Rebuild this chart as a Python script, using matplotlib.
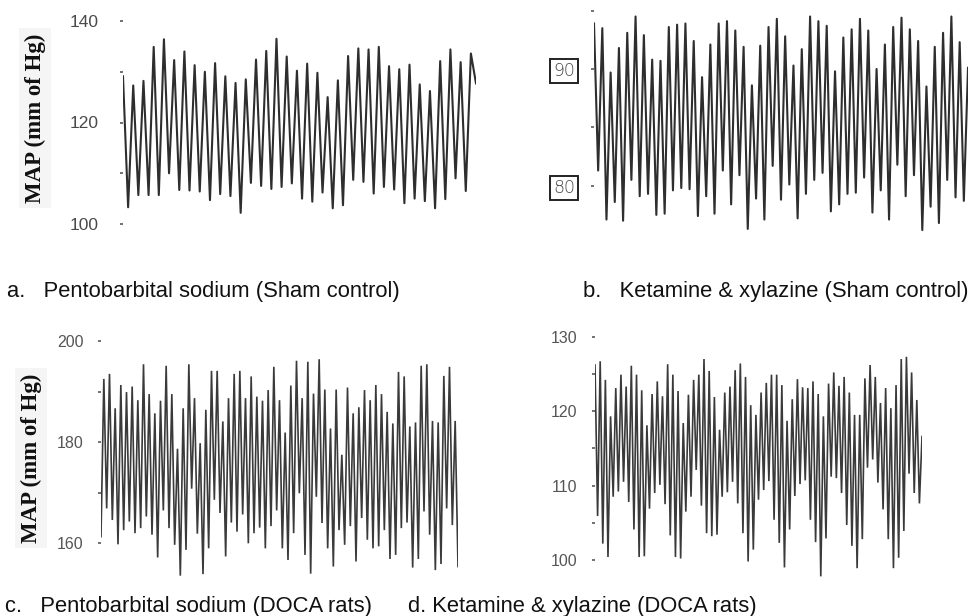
import matplotlib
matplotlib.use("Agg")
import matplotlib.pyplot as plt
import numpy as np

# Mean arterial pressure traces (mm Hg), successive peak / trough readings
map_pento_sham = [129.1, 103.3, 127.3, 105.7, 128.2, 105.7, 134.9, 105.7, 136.4, 110.0,
                  132.3, 106.7, 134.0, 106.6, 131.3, 106.4, 130.0, 104.7, 131.7, 105.9,
                  129.1, 105.5, 127.8, 102.2, 128.5, 108.1, 132.4, 107.5, 134.1, 106.9,
                  136.5, 107.3, 133.0, 108.0, 130.2, 105.0, 131.6, 104.4, 129.8, 106.2,
                  125.0, 103.1, 128.3, 103.7, 133.1, 108.7, 134.6, 108.3, 134.4, 106.0,
                  134.9, 107.3, 131.1, 106.8, 130.5, 104.1, 131.4, 105.0, 127.5, 104.5,
                  126.2, 103.1, 132.1, 104.9, 134.4, 109.0, 131.9, 106.5, 133.6, 127.7]

map_ketx_sham = [93.9, 81.3, 93.5, 77.1, 89.7, 78.6, 91.8, 77.0, 93.1, 80.5,
                 94.5, 79.1, 92.9, 79.3, 90.8, 77.5, 90.7, 77.6, 93.6, 79.6,
                 93.8, 79.8, 93.9, 79.7, 92.4, 77.4, 89.3, 79.1, 92.1, 77.6,
                 93.9, 81.3, 94.1, 78.4, 93.3, 80.9, 91.9, 76.3, 88.6, 78.9,
                 92.0, 77.1, 93.6, 81.7, 94.3, 78.8, 92.8, 80.1, 90.3, 77.2,
                 91.7, 79.3, 94.5, 80.5, 94.1, 81.1, 93.7, 77.8, 89.8, 78.4,
                 92.7, 79.3, 93.4, 79.4, 94.3, 80.7, 93.3, 77.7, 90.0, 79.6,
                 92.1, 77.1, 93.6, 81.8, 94.4, 79.1, 93.4, 80.9, 92.4, 76.2,
                 88.5, 78.2, 91.9, 76.8, 93.1, 80.5, 94.5, 79.0, 92.3, 78.7, 90.1]

map_pento_doca = [161.3, 192.5, 166.9, 193.5, 164.6, 186.7, 159.8, 191.3, 162.6, 189.9,
                  164.3, 191.0, 162.0, 188.3, 163.0, 195.4, 165.3, 189.5, 161.7, 185.7,
                  157.2, 188.2, 166.5, 195.1, 163.0, 189.5, 159.7, 178.7, 153.6, 186.7,
                  158.7, 195.4, 170.8, 188.7, 161.9, 179.8, 153.9, 186.4, 159.0, 194.1,
                  168.6, 194.1, 166.0, 184.1, 157.4, 188.7, 164.1, 193.5, 162.3, 194.1,
                  165.7, 188.7, 160.0, 193.0, 162.0, 189.0, 163.1, 188.2, 159.0, 190.3,
                  163.4, 194.9, 166.5, 188.3, 159.0, 181.9, 156.7, 191.2, 162.0, 196.1,
                  169.9, 188.7, 157.7, 195.9, 154.0, 189.6, 169.2, 196.4, 164.0, 190.4,
                  159.0, 182.7, 155.4, 190.4, 162.6, 177.5, 159.7, 190.8, 163.4, 185.7,
                  156.4, 186.9, 165.0, 190.3, 160.7, 188.3, 159.0, 191.3, 159.4, 189.5,
                  162.6, 186.0, 156.9, 183.7, 157.7, 193.9, 163.0, 193.0, 164.1, 183.1,
                  155.2, 183.9, 156.9, 195.1, 166.3, 195.4, 161.7, 184.2, 154.7, 183.9,
                  155.9, 193.1, 166.9, 194.9, 163.6, 184.2, 155.4]

map_ketx_doca = [126.2, 105.9, 126.7, 102.2, 124.2, 100.4, 119.3, 108.5, 123.1, 109.2,
                 124.9, 110.5, 123.3, 107.8, 126.1, 104.1, 124.9, 100.4, 122.8, 100.5,
                 118.1, 106.9, 122.3, 109.0, 124.0, 110.1, 122.0, 107.5, 126.3, 103.3,
                 124.9, 100.4, 122.7, 100.2, 118.4, 106.5, 122.2, 108.5, 124.2, 112.1,
                 124.9, 107.3, 127.0, 103.6, 125.4, 103.2, 121.9, 103.4, 117.5, 108.5,
                 122.5, 109.1, 123.3, 110.5, 125.5, 107.6, 126.4, 103.6, 124.6, 99.8,
                 120.8, 101.4, 119.5, 108.1, 122.5, 109.4, 123.8, 110.6, 124.9, 105.4,
                 124.9, 102.3, 123.5, 99.0, 118.7, 104.1, 121.6, 108.6, 124.3, 110.2,
                 123.2, 110.7, 123.1, 105.4, 124.0, 102.4, 122.3, 97.8, 119.3, 102.9,
                 123.7, 111.2, 125.2, 111.0, 123.4, 109.0, 124.6, 104.7, 122.5, 101.9,
                 119.5, 98.9, 119.5, 102.8, 124.4, 112.4, 126.2, 113.5, 124.6, 110.4,
                 121.1, 106.8, 123.1, 102.8, 120.4, 98.9, 123.5, 100.3, 127.0, 103.9,
                 127.3, 111.6, 125.2, 109.0, 121.5, 107.6, 116.6]

captions = ["a.   Pentobarbital sodium (Sham control)",
            "b.   Ketamine & xylazine (Sham control)",
            "c.   Pentobarbital sodium (DOCA rats)",
            "d. Ketamine & xylazine (DOCA rats)"]
ylabel_text = "MAP (mm of Hg)"

W, H = 969, 616
fig = plt.figure(figsize=(W / 100, H / 100), dpi=100)
fig.patch.set_facecolor("white")


def trace_axes(x0, x1, v_lo, px_lo, v_hi, px_hi, ylim):
    """Axes whose value scale puts v_lo at pixel row px_lo and v_hi at px_hi."""
    s = (px_lo - px_hi) / (v_hi - v_lo)
    bot = px_lo + (v_lo - ylim[0]) * s
    top = px_hi - (ylim[1] - v_hi) * s
    ax = fig.add_axes([x0 / W, 1 - bot / H, (x1 - x0) / W, (bot - top) / H])
    ax.set_ylim(*ylim)
    ax.patch.set_alpha(0)
    for sp in ax.spines.values():
        sp.set_visible(False)
    ax.set_xticks([])
    return ax


def style_ticks(ax, major, minor, pad, size, color):
    ax.set_yticks(major)
    ax.set_yticks(minor, minor=True)
    ax.set_yticklabels([str(v) for v in major])
    ax.tick_params(axis="y", which="both", length=2.5, width=1.3,
                   color="#666666", direction="out", pad=pad,
                   labelsize=size, labelcolor=color)
    for lbl in ax.get_yticklabels():
        lbl.set_family("Liberation Sans")


def draw(ax, values, color, lw, join):
    x = np.arange(len(values))
    ax.plot(x, values, color=color, lw=lw, solid_joinstyle=join)
    ax.set_xlim(0, len(values) - 1)


# a. pentobarbital, sham
ax_a = trace_axes(123, 476, 100, 224, 140, 21, (100, 140))
draw(ax_a, map_pento_sham, "#2e2e2e", 1.5, "round")
style_ticks(ax_a, [100, 120, 140], [110, 130], 15, 12.5, "#4a4a4a")

# b. ketamine & xylazine, sham
ax_b = trace_axes(594, 968, 80, 185.7, 90, 69, (75, 96))
draw(ax_b, map_ketx_sham, "#2e2e2e", 1.5, "round")
style_ticks(ax_b, [80, 90], [85, 95], 11, 12.5, "#444444")
for lbl in ax_b.get_yticklabels():
    lbl.set_family("DejaVu Sans")
    lbl.set_fontweight("light")
    lbl.set_bbox(dict(boxstyle="square,pad=0.18", facecolor="white",
                      edgecolor="#222222", lw=1.4))

# c. pentobarbital, DOCA
ax_c = trace_axes(101, 458, 160, 543.3, 200, 341, (150, 201))
draw(ax_c, map_pento_doca, "#3a3a3a", 1.2, "miter")
style_ticks(ax_c, [160, 180, 200], [170, 190], 10, 11.5, "#555555")

# d. ketamine & xylazine, DOCA
ax_d = trace_axes(595, 922, 100, 560, 130, 336.7, (96, 131))
draw(ax_d, map_ketx_doca, "#3a3a3a", 1.2, "miter")
style_ticks(ax_d, [100, 110, 120, 130], [105, 115, 125], 10, 11.5, "#555555")

# vertical axis titles
for (cx, cy) in [(35, 118), (31, 458)]:
    fig.text(cx / W, 1 - cy / H, ylabel_text, rotation=90, ha="center",
             va="center", family="Liberation Serif", fontweight="bold",
             fontsize=16.5, color="#111111",
             bbox=dict(boxstyle="square,pad=0.25", facecolor="#f5f5f5",
                       edgecolor="none"))

# panel captions
for (px, py), txt in zip([(7, 297), (583, 297), (5, 612), (408, 612)], captions):
    fig.text(px / W, 1 - py / H, txt, ha="left", va="baseline",
             family="Liberation Sans", fontsize=15.8, color="#111111")

fig.savefig("out.png", dpi=100, facecolor="white")
